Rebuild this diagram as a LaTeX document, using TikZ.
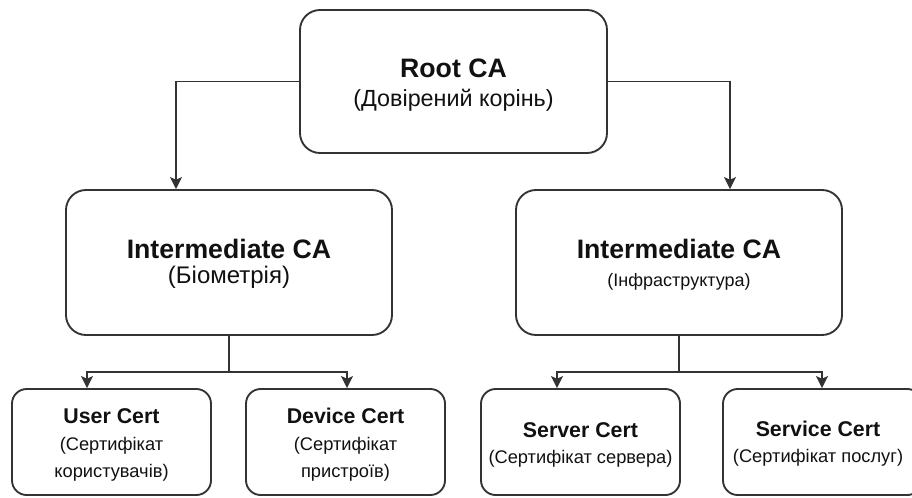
\documentclass[tikz,border=0pt]{standalone}
\usepackage{fontspec}
\setmainfont{Liberation Sans}
\usetikzlibrary{arrows.meta,calc}
\definecolor{edge}{HTML}{333333}
\definecolor{ink}{HTML}{111111}
\begin{document}
\begin{tikzpicture}[x=0.75pt,y=-0.75pt,
  card/.style={draw=edge, line width=1.4pt, fill=white, inner sep=0pt},
  rootcard/.style={card, rounded corners=15pt, minimum width=230.25pt, minimum height=107.25pt},
  midcard/.style={card, rounded corners=15pt, minimum width=244.5pt, minimum height=108.75pt},
  leafcard/.style={card, rounded corners=11pt, minimum width=149.25pt, minimum height=79.5pt},
  link/.style={draw=edge, line width=1.4pt},
  tip/.style={link, -{Stealth[length=9pt,width=9pt,inset=2pt]}},
  txt/.style={anchor=base, inner sep=0pt, text=ink},
  bigtitle/.style={txt, font=\fontsize{20}{24}\selectfont\bfseries},
  leaftitle/.style={txt, font=\fontsize{16}{19}\selectfont\bfseries},
  rootsub/.style={txt, font=\fontsize{17.5}{21}\selectfont},
  midsub/.style={txt, font=\fontsize{18}{21}\selectfont},
  smallsub/.style={txt, font=\fontsize{13.5}{16}\selectfont},
  leafsub/.style={txt, font=\fontsize{13.7}{16}\selectfont}
]
\useasboundingbox (0,0) rectangle (912,497);

% certificate authorities
\node[rootcard] (root) at (453.5,81.5) {};
\node[midcard]  (bio)  at (229,262.5) {};
\node[midcard]  (infra) at (679,262.5) {};

% end-entity certificates
\node[leafcard] (user)    at (111.5,442) {};
\node[leafcard] (device)  at (345.5,442) {};
\node[leafcard] (server)  at (580.5,442) {};
\node[leafcard] (service) at (822.5,442) {};

% labels
\node[bigtitle] (rootT) at ($(root.center)+(0,-4.5)$) {Root CA};
\node[rootsub]  (rootS) at ($(root.center)+(0,24.5)$) {(Довірений корінь)};

\node[bigtitle] (bioT) at ($(bio.center)+(0,-4.5)$) {Intermediate CA};
\node[midsub]   (bioS) at ($(bio.center)+(0,20.5)$) {(Біометрія)};

\node[bigtitle] (infraT) at ($(infra.center)+(0,-4.5)$) {Intermediate CA};
\node[smallsub] (infraS) at ($(infra.center)+(0,23.5)$) {(Інфраструктура)};

\node[leaftitle] (userT)  at ($(user.center)+(0,-19)$) {User Cert};
\node[leafsub]   (userS1) at ($(user.center)+(0,8)$) {(Сертифікат};
\node[leafsub]   (userS2) at ($(user.center)+(0,35)$) {користувачів)};

\node[leaftitle] (deviceT)  at ($(device.center)+(0,-19)$) {Device Cert};
\node[leafsub]   (deviceS1) at ($(device.center)+(0,8)$) {(Сертифікат};
\node[leafsub]   (deviceS2) at ($(device.center)+(0,35)$) {пристроїв)};

\node[leaftitle] (serverT) at ($(server.center)+(0,-5)$) {Server Cert};
\node[leafsub]   (serverS) at ($(server.center)+(0,21)$) {(Сертифікат сервера)};

\node[leaftitle] (serviceT) at ($(service.center)+(-4.5,-6)$) {Service Cert};
\node[leafsub]   (serviceS) at ($(service.center)+(-4.5,20)$) {(Сертифікат послуг)};

% root to intermediates
\draw[tip] (root.west) -| ($(bio.north)+(-53,0)$);
\draw[tip] (root.east) -| ($(infra.north)+(51,0)$);

% intermediates to leaves
\coordinate (bioSplit) at ($(bio.south)+(0,36)$);
\coordinate (infraSplit) at ($(infra.south)+(0,36)$);
\draw[link] (bio.south) -- (bioSplit);
\draw[tip] (bioSplit) -| ($(user.north)+(-24.5,0)$);
\draw[tip] (bioSplit) -| ($(device.north)+(1.5,0)$);
\draw[link] (infra.south) -- (infraSplit);
\draw[tip] (infraSplit) -| ($(server.north)+(-23.5,0)$);
\draw[tip] (infraSplit) -| ($(service.north)+(-0.5,0)$);
\end{tikzpicture}
\end{document}
